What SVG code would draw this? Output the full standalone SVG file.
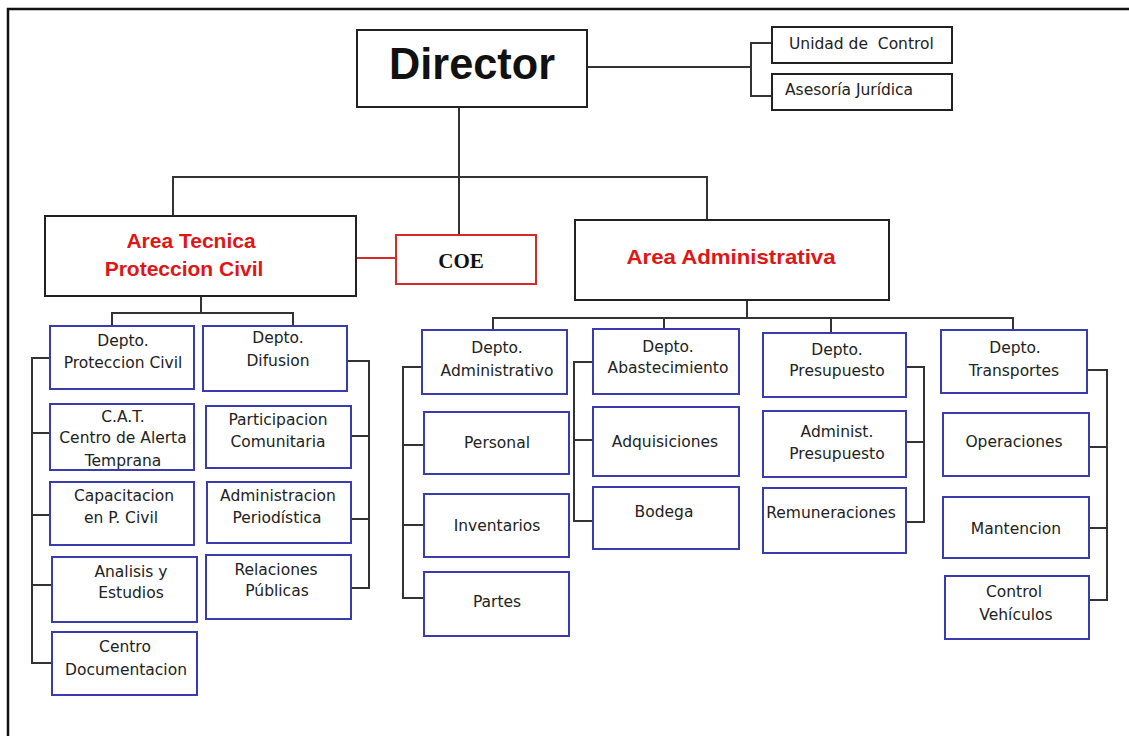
<svg xmlns="http://www.w3.org/2000/svg" width="1129" height="736" viewBox="0 0 1129 736">
<style>
.bk{fill:#fff;stroke:#222;stroke-width:2}
.bl{fill:#fff;stroke:#3b3bb0;stroke-width:2}
.rd{fill:#fff;stroke:#d42a2a;stroke-width:2}
.c{fill:none;stroke:#333;stroke-width:2}
.cr{fill:none;stroke:#d42a2a;stroke-width:2}
.t{font-family:"DejaVu Sans",sans-serif;font-size:15.5px;fill:#222;text-anchor:middle}
.tl{font-family:"DejaVu Sans",sans-serif;font-size:15.5px;fill:#222}
.h{font-family:"Liberation Sans",Arial,sans-serif;font-weight:bold;font-size:21px;fill:#e01515;text-anchor:middle}
</style>
<rect width="1129" height="736" fill="#fff"/>
<path d="M8,736 V9 H1129" fill="none" stroke="#111" stroke-width="2.5"/>
<g id="connectors">
<path class="c" d="M587,67 H751 M772,43 H751 V96 H772"/>
<path class="c" d="M459,107 V235 M173,216 V177 H707 V220"/>
<path class="cr" d="M356,258 H396"/>
<path class="c" d="M201,296 V313 M112,326 V313 H293 V326"/>
<path class="c" d="M50,358 H32 V663 H52 M32,433 H50 M32,515 H50 M32,585 H52"/>
<path class="c" d="M347,361 H369 V588 H351 M351,436 H369 M351,519 H369"/>
<path class="c" d="M747,300 V318 M493,330 V318 H1013 V330 M664,318 V329 M831,318 V333"/>
<path class="c" d="M422,367 H403 V598 H424 M403,445 H424 M403,525 H424"/>
<path class="c" d="M593,362 H574 V521 H593 M574,440 H593"/>
<path class="c" d="M906,367 H924 V522 H906 M906,442 H924"/>
<path class="c" d="M1087,370 H1107 V600 H1089 M1089,447 H1107 M1089,528 H1107"/>
</g>
<g id="director">
<rect class="bk" x="357" y="30" width="230" height="77"/>
<text x="472" y="79" font-family="Liberation Sans,Arial,sans-serif" font-weight="bold" font-size="44" fill="#111" text-anchor="middle" textLength="166" lengthAdjust="spacingAndGlyphs">Director</text>
</g>
<g id="unidad-control">
<rect class="bk" x="772" y="27" width="180" height="36"/>
<text class="tl" x="789" y="49" xml:space="preserve">Unidad de  Control</text>
</g>
<g id="asesoria">
<rect class="bk" x="772" y="74" width="180" height="36"/>
<text class="tl" x="785" y="95">Asesoría Jurídica</text>
</g>
<g id="area-tecnica">
<rect class="bk" x="45" y="216" width="311" height="80"/>
<text class="h" x="191" y="248">Area Tecnica</text>
<text class="h" x="184" y="276">Proteccion Civil</text>
</g>
<g id="coe">
<rect class="rd" x="396" y="235" width="140" height="49"/>
<text x="461" y="268" font-family="Liberation Serif,Times New Roman,serif" font-weight="bold" font-size="21" fill="#111" text-anchor="middle">COE</text>
</g>
<g id="area-administrativa">
<rect class="bk" x="575" y="220" width="314" height="80"/>
<text class="h" x="731" y="264" textLength="209" lengthAdjust="spacingAndGlyphs">Area Administrativa</text>
</g>
<g id="depto-proteccion-civil">
<rect class="bl" x="50" y="326" width="144" height="63"/>
<text class="t" x="123" y="346">Depto.</text>
<text class="t" x="123" y="368">Proteccion Civil</text>
</g>
<g id="cat">
<rect class="bl" x="50" y="404" width="144" height="66"/>
<text class="t" x="123" y="422">C.A.T.</text>
<text class="t" x="123" y="443">Centro de Alerta</text>
<text class="t" x="123" y="466">Temprana</text>
</g>
<g id="capacitacion">
<rect class="bl" x="50" y="482" width="144" height="63"/>
<text class="t" x="124" y="501">Capacitacion</text>
<text class="t" x="121" y="523">en P. Civil</text>
</g>
<g id="analisis">
<rect class="bl" x="52" y="557" width="145" height="65"/>
<text class="t" x="131" y="577">Analisis y</text>
<text class="t" x="131" y="598">Estudios</text>
</g>
<g id="centro-documentacion">
<rect class="bl" x="52" y="632" width="145" height="63"/>
<text class="t" x="125" y="652">Centro</text>
<text class="t" x="126" y="675">Documentacion</text>
</g>
<g id="depto-difusion">
<rect class="bl" x="203" y="326" width="144" height="65"/>
<text class="t" x="278" y="343">Depto.</text>
<text class="t" x="278" y="366">Difusion</text>
</g>
<g id="participacion">
<rect class="bl" x="206" y="406" width="145" height="62"/>
<text class="t" x="278" y="425">Participacion</text>
<text class="t" x="278" y="447">Comunitaria</text>
</g>
<g id="administracion-periodistica">
<rect class="bl" x="207" y="482" width="144" height="61"/>
<text class="t" x="278" y="501">Administracion</text>
<text class="t" x="277" y="523">Periodística</text>
</g>
<g id="relaciones-publicas">
<rect class="bl" x="206" y="555" width="145" height="64"/>
<text class="t" x="276" y="575">Relaciones</text>
<text class="t" x="277" y="596">Públicas</text>
</g>
<g id="depto-administrativo">
<rect class="bl" x="422" y="330" width="145" height="64"/>
<text class="t" x="497" y="353">Depto.</text>
<text class="t" x="497" y="376">Administrativo</text>
</g>
<g id="personal">
<rect class="bl" x="424" y="412" width="145" height="62"/>
<text class="t" x="497" y="448">Personal</text>
</g>
<g id="inventarios">
<rect class="bl" x="424" y="494" width="145" height="63"/>
<text class="t" x="497" y="531">Inventarios</text>
</g>
<g id="partes">
<rect class="bl" x="424" y="572" width="145" height="64"/>
<text class="t" x="497" y="607">Partes</text>
</g>
<g id="depto-abastecimiento">
<rect class="bl" x="593" y="329" width="146" height="65"/>
<text class="t" x="668" y="352">Depto.</text>
<text class="t" x="668" y="373">Abastecimiento</text>
</g>
<g id="adquisiciones">
<rect class="bl" x="593" y="407" width="146" height="69"/>
<text class="t" x="665" y="447">Adquisiciones</text>
</g>
<g id="bodega">
<rect class="bl" x="593" y="487" width="146" height="62"/>
<text class="t" x="664" y="517">Bodega</text>
</g>
<g id="depto-presupuesto">
<rect class="bl" x="763" y="333" width="143" height="64"/>
<text class="t" x="837" y="355">Depto.</text>
<text class="t" x="837" y="376">Presupuesto</text>
</g>
<g id="administ-presupuesto">
<rect class="bl" x="763" y="411" width="143" height="66"/>
<text class="t" x="837" y="437">Administ.</text>
<text class="t" x="837" y="459">Presupuesto</text>
</g>
<g id="remuneraciones">
<rect class="bl" x="763" y="488" width="143" height="65"/>
<text class="t" x="831" y="518">Remuneraciones</text>
</g>
<g id="depto-transportes">
<rect class="bl" x="941" y="330" width="146" height="63"/>
<text class="t" x="1015" y="353">Depto.</text>
<text class="t" x="1014" y="376">Transportes</text>
</g>
<g id="operaciones">
<rect class="bl" x="943" y="413" width="146" height="63"/>
<text class="t" x="1014" y="447">Operaciones</text>
</g>
<g id="mantencion">
<rect class="bl" x="943" y="497" width="146" height="61"/>
<text class="t" x="1016" y="534">Mantencion</text>
</g>
<g id="control-vehiculos">
<rect class="bl" x="945" y="576" width="144" height="63"/>
<text class="t" x="1014" y="597">Control</text>
<text class="t" x="1016" y="620">Vehículos</text>
</g>
</svg>
